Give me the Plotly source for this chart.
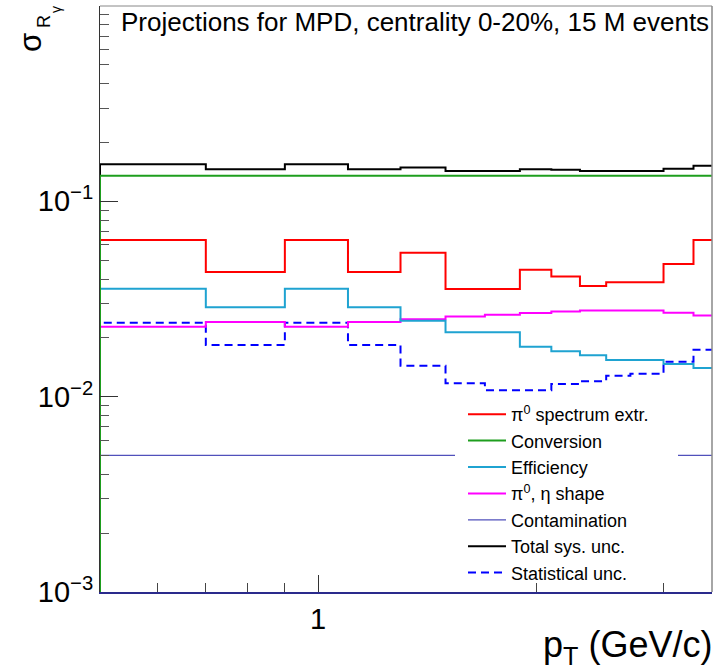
import plotly.graph_objects as go

# pT bin edges (GeV/c)
pt_edges = [0.5, 0.7, 0.9, 1.1, 1.3, 1.5, 1.7, 1.9, 2.1, 2.3, 2.5, 2.7, 3.0, 3.3, 3.5]

# uncertainties per bin
pi0_spectrum = [0.0634, 0.0435, 0.0634, 0.0435, 0.0546, 0.0356, 0.0356, 0.0446, 0.0412, 0.0369, 0.0385, 0.0385, 0.0478, 0.0634]
conversion = [0.135] * 14
efficiency = [0.0357, 0.0287, 0.0357, 0.0287, 0.0245, 0.0214, 0.0214, 0.0180, 0.0171, 0.0163, 0.0154, 0.0154, 0.0147, 0.0140]
shape = [0.0228, 0.0241, 0.0228, 0.0241, 0.0249, 0.0257, 0.0263, 0.0268, 0.0273, 0.0276, 0.0276, 0.0276, 0.0269, 0.0260]
contamination = [0.005] * 14
total_sys = [0.155, 0.146, 0.155, 0.146, 0.149, 0.143, 0.143, 0.146, 0.145, 0.143, 0.143, 0.143, 0.147, 0.152]
statistical = [0.0239, 0.0184, 0.0239, 0.0184, 0.0144, 0.0117, 0.0108, 0.0108, 0.0116, 0.0120, 0.0128, 0.0131, 0.0151, 0.0174]

y_tick_vals = [1e-3, 1e-2, 1e-1]
y_tick_text = ["10<sup>\u22123</sup>", "10<sup>\u22122</sup>", "10<sup>\u22121</sup>"]
x_tick_vals = [1]
x_tick_text = ["1"]
x_minor_vals = [0.6, 0.7, 0.8, 0.9, 2, 3]
y_minor_vals = [m * d for d in (1e-3, 1e-2, 1e-1) for m in range(2, 10)]

Y_FLOOR = 1e-3
FONT = "Liberation Sans, Arial, sans-serif"


def step_xy(vals):
    # histogram outline: rises from the axis floor at the first edge
    xs = [pt_edges[0]] + pt_edges[:-1] + [pt_edges[-1]]
    ys = [Y_FLOOR] + list(vals) + [vals[-1]]
    return xs, ys


series = [
    # (name, values, color, width, dash, legendrank)
    ("Contamination", contamination, "#5050bb", 1.3, "solid", 5),
    ("Statistical unc.", statistical, "#0000ff", 2, "8px,5px", 7),
    ("\u03c0<sup>0</sup>, \u03b7 shape", shape, "#ff00ff", 2, "solid", 4),
    ("Efficiency", efficiency, "#1fa3d1", 2, "solid", 3),
    ("\u03c0<sup>0</sup> spectrum extr.", pi0_spectrum, "#ff0000", 2, "solid", 1),
    ("Total sys. unc.", total_sys, "#000000", 2, "solid", 6),
    ("Conversion", conversion, "#1e9e1e", 2, "solid", 2),
]

fig = go.Figure()
for name, vals, color, width, dash, rank in series:
    xs, ys = step_xy(vals)
    fig.add_trace(go.Scatter(
        x=xs, y=ys, mode="lines", name=name, line_shape="hv",
        line=dict(color=color, width=width, dash=dash),
        legendrank=rank, cliponaxis=True,
    ))

L, R, T, B = 100, 12, 6, 77
W, H = 724, 669
pw, ph = W - L - R, H - T - B


def px_x(p):
    return (p - L) / pw


def px_y(p):
    return (H - B - p) / ph


fig.update_layout(
    width=W, height=H,
    margin=dict(l=L, r=R, t=T, b=B, pad=0),
    paper_bgcolor="white", plot_bgcolor="white",
    font=dict(family=FONT, color="black"),
    showlegend=True,
    legend=dict(
        x=px_x(463), y=px_y(396), xanchor="left", yanchor="top",
        bgcolor="rgba(0,0,0,0)", borderwidth=0,
        font=dict(size=18, family=FONT), itemwidth=38,
        traceorder="normal",
    ),
    xaxis=dict(
        type="log", range=[-0.30103, 0.544068],
        showgrid=False, zeroline=False,
        showline=True, linecolor="#2a2a8c", linewidth=2, mirror=False,
        ticks="inside", ticklen=17, tickwidth=1, tickcolor="#333",
        tickmode="array", tickvals=x_tick_vals, ticktext=x_tick_text,
        tickfont=dict(size=29, family=FONT),
        minor=dict(tickmode="array", tickvals=x_minor_vals, ticks="inside",
                   ticklen=9, tickwidth=1, tickcolor="#444", showgrid=False),
    ),
    yaxis=dict(
        type="log", range=[-3, 0],
        showgrid=False, zeroline=False,
        showline=True, linecolor="#333", linewidth=1, mirror=False,
        ticks="inside", ticklen=18, tickwidth=1, tickcolor="#333",
        tickmode="array", tickvals=y_tick_vals, ticktext=y_tick_text,
        tickfont=dict(size=29, family=FONT),
        minor=dict(tickmode="array", tickvals=y_minor_vals, ticks="inside",
                   ticklen=9, tickwidth=1, tickcolor="#555", showgrid=False),
    ),
    shapes=[
        # white legend pad
        dict(type="rect", xref="paper", yref="paper",
             x0=px_x(455), x1=px_x(678), y0=px_y(580), y1=px_y(394),
             fillcolor="white", line=dict(width=0), layer="above"),
        # top and right frame
        dict(type="line", xref="paper", yref="paper", x0=0, x1=1, y0=1, y1=1,
             line=dict(color="#888", width=1), layer="above"),
        dict(type="line", xref="paper", yref="paper", x0=1, x1=1, y0=0, y1=1,
             line=dict(color="#888", width=1.5), layer="above"),
    ],
    annotations=[
        dict(text="Projections for MPD, centrality 0-20%, 15 M events",
             xref="paper", yref="paper", x=px_x(711), y=px_y(5),
             xanchor="right", yanchor="top", showarrow=False,
             font=dict(size=26, family=FONT, color="black")),
        dict(text="p<sub>T</sub> (GeV/c)", xref="paper", yref="paper",
             x=px_x(714), y=px_y(672), xanchor="right", yanchor="bottom",
             showarrow=False, font=dict(size=36, family=FONT, color="black")),
        dict(text="\u03c3", xref="paper", yref="paper", x=px_x(30), y=px_y(43),
             xanchor="center", yanchor="middle", textangle=-90, showarrow=False,
             font=dict(size=31, family=FONT, color="black")),
        dict(text="R", xref="paper", yref="paper", x=px_x(44), y=px_y(22),
             xanchor="center", yanchor="middle", textangle=-90, showarrow=False,
             font=dict(size=18, family=FONT, color="black")),
        dict(text="\u03b3", xref="paper", yref="paper", x=px_x(56), y=px_y(10),
             xanchor="center", yanchor="middle", textangle=-90, showarrow=False,
             font=dict(size=14, family=FONT, color="black")),
    ],
)

fig.write_html("out.html")
